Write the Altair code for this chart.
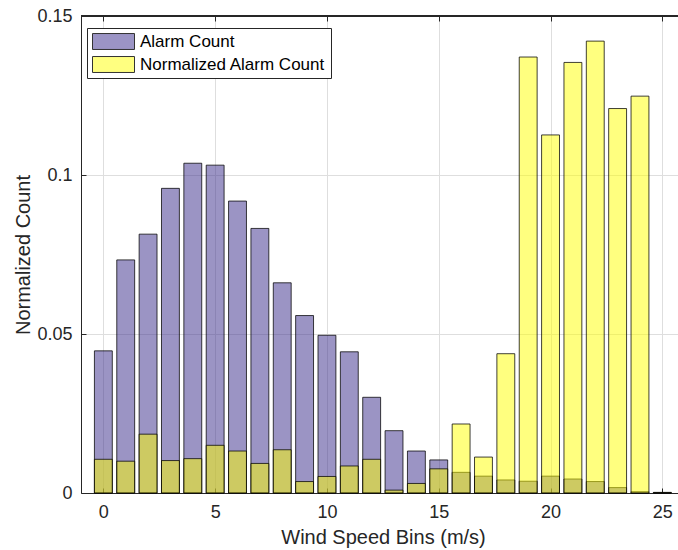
import altair as alt
import pandas as pd

# ---- data ----
bins = list(range(26))
alarm_count = [0.0447, 0.0733, 0.0814, 0.0958, 0.1037, 0.1031, 0.0918, 0.0832,
               0.0661, 0.0558, 0.0496, 0.0444, 0.0301, 0.0196, 0.0132, 0.0104,
               0.0065, 0.0053, 0.0041, 0.0037, 0.0053, 0.0044, 0.0036, 0.0017,
               0.0004, 0.0002]
normalized_alarm_count = [0.0106, 0.0100, 0.0185, 0.0102, 0.0108, 0.0150, 0.0132,
                          0.0093, 0.0136, 0.0036, 0.0052, 0.0085, 0.0106, 0.0009,
                          0.0030, 0.0076, 0.0217, 0.0113, 0.0438, 0.1371, 0.1126,
                          0.1354, 0.1421, 0.1209, 0.1248, 0.0001]
series_names = ["Alarm Count", "Normalized Alarm Count"]
series_colors = ["#372a8a", "#ffff00"]          # drawn at 50 % fill opacity
legend_colors = ["#9b94c5", "#ffff80"]          # same colours as seen on white
x_ticks = [0, 5, 10, 15, 20, 25]
y_ticks = [0, 0.05, 0.1, 0.15]

rows = []
for name, vals in zip(series_names, [alarm_count, normalized_alarm_count]):
    for b, v in zip(bins, vals):
        rows.append({"bin": b, "value": v, "series": name})
df = pd.DataFrame(rows)

FONT = "Liberation Sans"
INK = "#262626"
xscale = alt.Scale(domain=[-1, 25.7], nice=False, zero=False)
yscale = alt.Scale(domain=[0, 0.15], nice=False)

base = alt.Chart(df)

bars = base.transform_calculate(
    x0="datum.bin - 0.4", x1="datum.bin + 0.4"
).mark_bar(
    fillOpacity=0.5, stroke="black", strokeOpacity=0.75, strokeWidth=1
).encode(
    x=alt.X("x0:Q", scale=xscale,
            axis=alt.Axis(values=x_ticks, title="Wind Speed Bins (m/s)", grid=True,
                          ticks=False, tickSize=0, domain=True, labelPadding=10,
                          titlePadding=6, titleX=302, format="d")),
    x2="x1:Q",
    y=alt.Y("value:Q", scale=yscale, stack=None,
            axis=alt.Axis(values=y_ticks, title="Normalized Count", grid=True,
                          ticks=False, tickSize=0, domain=True, labelPadding=9,
                          titlePadding=3,
                          labelExpr="format(datum.value, '~g')")),
    y2=alt.Y2Datum(0),
    color=alt.Color("series:N",
                    scale=alt.Scale(domain=series_names, range=series_colors),
                    legend=None),
)

legend_layer = base.transform_filter("false").mark_square().encode(
    x=alt.X("bin:Q", scale=xscale, axis=None),
    y=alt.Y("value:Q", scale=yscale, axis=None),
    color=alt.Color(
        "series:N",
        scale=alt.Scale(domain=series_names, range=legend_colors),
        legend=alt.Legend(
            title=None, orient="none", legendX=6, legendY=12,
            symbolType="M-1,-0.38H1V0.38H-1Z", symbolSize=1764,
            clipHeight=17, rowPadding=5, labelOffset=5, labelLimit=400,
            labelFont=FONT, labelFontSize=17, labelColor="black",
            strokeColor=INK, fillColor="white", padding=5,
            symbolStrokeColor="#333333", symbolStrokeWidth=1, symbolOpacity=1,
        ),
    ),
)

top_line = base.mark_rule(color=INK, strokeWidth=1).encode(
    y=alt.YDatum(0.15, scale=yscale, axis=None)
)

top_ticks = base.mark_point(opacity=0).encode(
    x=alt.X("bin:Q", scale=xscale,
            axis=alt.Axis(orient="top", values=x_ticks, offset=-5, tickSize=5,
                          labels=False, domain=False, grid=False, title=None)),
    y=alt.Y("value:Q", scale=yscale, axis=None),
)

inner_ticks = base.mark_point(opacity=0).encode(
    x=alt.X("bin:Q", scale=xscale,
            axis=alt.Axis(orient="bottom", values=x_ticks, offset=-5, tickSize=5,
                          labels=False, domain=False, grid=False, title=None)),
    y=alt.Y("value:Q", scale=yscale,
            axis=alt.Axis(orient="left", values=y_ticks, offset=-5, tickSize=5,
                          labels=False, domain=False, grid=False, title=None)),
)

chart = alt.layer(bars, top_line, top_ticks, inner_ticks, legend_layer).resolve_axis(
    x="independent", y="independent"
).resolve_scale(color="independent").properties(
    width=597, height=477,
    autosize=alt.AutoSizeParams(type="none"),
    padding={"left": 81, "top": 16, "right": 0, "bottom": 57},
    background="white",
).configure_view(stroke=None).configure_axis(
    labelFont=FONT, titleFont=FONT, labelFontSize=18, titleFontSize=20,
    labelColor=INK, titleColor=INK, titleFontWeight="normal",
    gridColor="#dedede", gridWidth=1, domainColor=INK, domainWidth=1,
    tickColor=INK, tickWidth=1,
)

chart.save("out.html", embed_options={"renderer": "svg", "actions": False})
